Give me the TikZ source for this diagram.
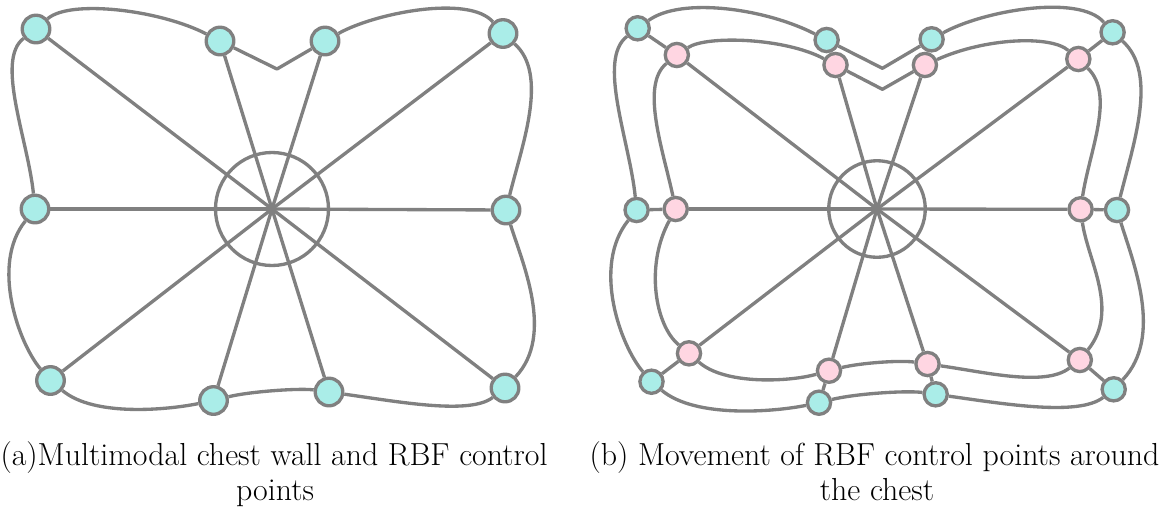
\documentclass[tikz,border=0pt]{standalone}
\definecolor{edgegray}{HTML}{808080}
\definecolor{cyanfill}{HTML}{AAEDE8}
\definecolor{pinkfill}{HTML}{FFD6E2}
\pgfdeclarelayer{bg}
\pgfsetlayers{bg,main}
\tikzset{
  cpa/.style={circle, draw=edgegray, fill=cyanfill, line width=2.5pt, minimum size=20.7pt, inner sep=0pt},
  cpb/.style={cpa, minimum size=17.4pt},
  ppb/.style={cpb, fill=pinkfill},
  ring/.style={circle, draw=edgegray, line width=2.5pt, inner sep=0pt},
  wire/.style={draw=edgegray, line width=2.5pt, line join=round},
  captext/.style={font=\fontsize{23.9pt}{28pt}\selectfont, inner sep=0pt, text=black, anchor=base}
}
\begin{document}
\begin{tikzpicture}[x=0.75pt, y=-0.75pt]
\useasboundingbox (0,0) rectangle (1161,508);

% ---------------- panel (a) ----------------
\node[ring, minimum size=84.75pt] (aring) at (272,209) {};
\coordinate (an) at (277,69);
\node[cpa] (a1) at (36,29) {};
\node[cpa] (a2) at (220,41) {};
\node[cpa] (a3) at (325,41) {};
\node[cpa] (a4) at (503,33.5) {};
\node[cpa] (a5) at (506,210) {};
\node[cpa] (a6) at (505,388) {};
\node[cpa] (a7) at (329,392) {};
\node[cpa] (a8) at (213.5,400.5) {};
\node[cpa] (a9) at (50.5,380.5) {};
\node[cpa] (a10) at (35,209) {};

\begin{pgfonlayer}{bg}
\foreach \i in {1,...,10} \draw[wire] (aring.center) -- (a\i);
\draw[wire] (a1) .. controls +(34,-30) and +(-60,-31) .. (a2) -- (an) -- (a3)
  .. controls +(50,-28) and +(-34,-39) .. (a4)
  .. controls +(46,41) and +(16,-65) .. (a5)
  .. controls +(16,52) and +(50,-53) .. (a6)
  .. controls +(-35,27) and +(71,10) .. (a7)
  .. controls +(-29,-4) and +(36,-9) .. (a8)
  .. controls +(-44,9) and +(44,37) .. (a9)
  .. controls +(-31,-36) and +(-45,56) .. (a10)
  .. controls +(-7,-69) and +(-41,31) .. (a1);
\end{pgfonlayer}

% ---------------- panel (b) ----------------
\node[ring, minimum size=72.4pt] (bring) at (877,209) {};
\coordinate (bn) at (882.4,68.3);
\coordinate (pn) at (882.4,89.3);
\node[cpb] (b1) at (637.7,28.3) {};
\node[cpb] (b2) at (826.6,40) {};
\node[cpb] (b3) at (931.6,39.3) {};
\node[cpb] (b4) at (1112.6,32.3) {};
\node[cpb] (b5) at (1117,210) {};
\node[cpb] (b6) at (1113.7,389.3) {};
\node[cpb] (b7) at (935.7,394.3) {};
\node[cpb] (b8) at (819,402.7) {};
\node[cpb] (b9) at (651.5,381.7) {};
\node[cpb] (b10) at (636.6,210) {};
\node[ppb] (p1) at (676.8,55) {};
\node[ppb] (p2) at (835.5,65) {};
\node[ppb] (p3) at (924.9,65) {};
\node[ppb] (p4) at (1078.3,59) {};
\node[ppb] (p5) at (1080.6,209.3) {};
\node[ppb] (p6) at (1079.8,360) {};
\node[ppb] (p7) at (927.5,364) {};
\node[ppb] (p8) at (829,370.7) {};
\node[ppb] (p9) at (689,353.3) {};
\node[ppb] (p10) at (675.7,209) {};

\begin{pgfonlayer}{bg}
\foreach \i in {1,...,10} {
  \draw[wire] (bring.center) -- (p\i);
  \draw[wire] (p\i) -- (b\i);
}
\draw[wire] (b1) .. controls +(44,-32) and +(-60,-31) .. (b2) -- (bn) -- (b3)
  .. controls +(50,-28) and +(-34,-39) .. (b4)
  .. controls +(46,41) and +(16,-65) .. (b5)
  .. controls +(16,52) and +(50,-53) .. (b6)
  .. controls +(-35,27) and +(71,10) .. (b7)
  .. controls +(-29,-4) and +(36,-9) .. (b8)
  .. controls +(-44,9) and +(44,37) .. (b9)
  .. controls +(-31,-36) and +(-45,56) .. (b10)
  .. controls +(-7,-69) and +(-41,31) .. (b1);
\draw[wire] (p1) .. controls +(30,-20) and +(-50,-27) .. (p2) -- (pn) -- (p3)
  .. controls +(60,-27) and +(-28,-24) .. (p4)
  .. controls +(37,36) and +(9,-59) .. (p5)
  .. controls +(7,51) and +(40,-50) .. (p6)
  .. controls +(-35,27) and +(57,8) .. (p7)
  .. controls +(-27.5,-4) and +(31,-7.7) .. (p8)
  .. controls +(-39,11) and +(36,32) .. (p9)
  .. controls +(-34,-28) and +(-30.7,56) .. (p10)
  .. controls +(-12.7,-59) and +(-36.8,30) .. (p1);
\end{pgfonlayer}

% ---------------- captions ----------------
\node[captext] (capa1) at (274,465) {(a)Multimodal chest wall and RBF control};
\node[captext] (capa2) at (275,500) {points};
\node[captext] (capb1) at (874.5,465) {(b) Movement of RBF control points around};
\node[captext] (capb2) at (877,500) {the chest};
\end{tikzpicture}
\end{document}
